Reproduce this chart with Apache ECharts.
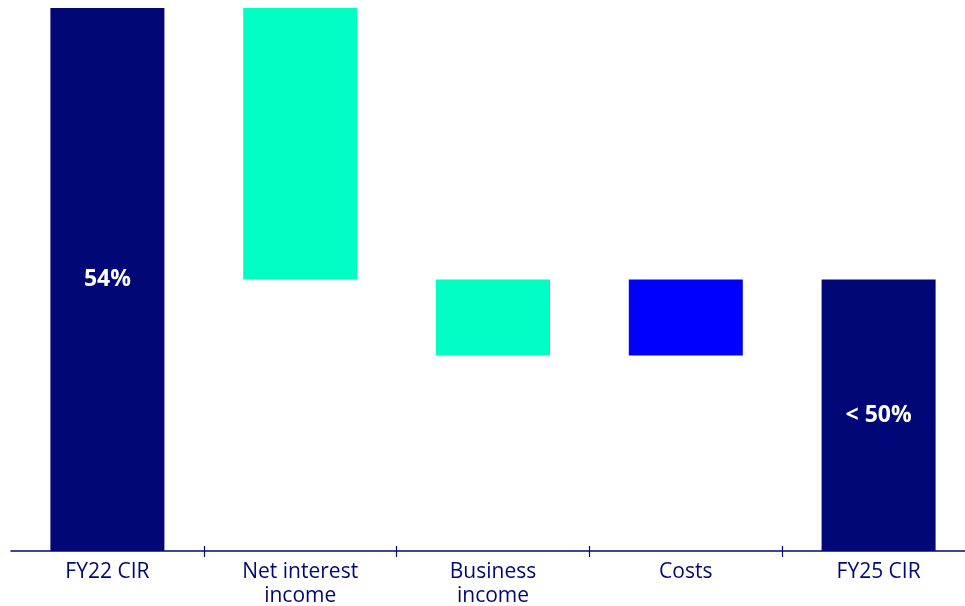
<!DOCTYPE html>
<html>
<head>
<meta charset="utf-8">
<script src="https://cdn.jsdelivr.net/npm/echarts@6/dist/echarts.min.js"></script>
<style>html,body{margin:0;padding:0;background:#fff}#c{width:965px;height:606px}</style>
</head>
<body>
<div id="c"></div>
<script>
var categories = ['FY22 CIR', 'Net interest\nincome', 'Business\nincome', 'Costs', 'FY25 CIR'];
var baseValues = [0, 50, 48.88, 48.88, 0];
var barValues = [54, 4, 1.12, 1.12, 50];
var barLabels = ['54%', '', '', '', '< 50%'];
var barColors = ['#000877', '#00FFC4', '#00FFC4', '#0000FF', '#000877'];

function render() {
  var chart = echarts.init(document.getElementById('c'));
  var tickInterval = function (i) { return i !== 0; };
  chart.setOption({
    animation: false,
    grid: { left: 11, width: 964, top: 8, bottom: 55, containLabel: false, outerBoundsMode: 'none' },
    xAxis: [{
      type: 'category',
      data: categories,
      axisLine: { lineStyle: { color: '#000877', width: 1.5 } },
      axisTick: { show: true, length: 6, interval: tickInterval, lineStyle: { color: '#000877', width: 1.2 } },
      axisLabel: { color: '#000877', fontFamily: "'Open Sans'", fontSize: 21, lineHeight: 24, margin: 9 }
    }, {
      type: 'category',
      position: 'bottom',
      data: categories,
      axisLine: { show: false },
      axisTick: { show: true, inside: true, length: 5, interval: tickInterval, lineStyle: { color: '#000877', width: 1.2 } },
      axisLabel: { show: false }
    }],
    yAxis: {
      type: 'value', min: 46, max: 54, show: false,
      splitLine: { show: false }
    },
    series: [
      {
        type: 'bar', stack: 'w', barWidth: 114,
        itemStyle: { color: 'transparent' },
        data: baseValues,
        silent: true
      },
      {
        type: 'bar', stack: 'w', barWidth: 114,
        data: barValues.map(function (v, i) {
          return { value: v, itemStyle: { color: barColors[i] } };
        }),
        label: {
          show: true, position: 'inside', color: '#fff',
          fontFamily: "'Open Sans'", fontWeight: 'bold', fontSize: 23,
          formatter: function (p) { return barLabels[p.dataIndex]; }
        }
      }
    ]
  });
}
if (document.fonts && document.fonts.load) {
  Promise.all([
    document.fonts.load('21px "Open Sans"'),
    document.fonts.load('bold 23px "Open Sans"')
  ]).then(render, render);
} else { render(); }
</script>
</body>
</html>
